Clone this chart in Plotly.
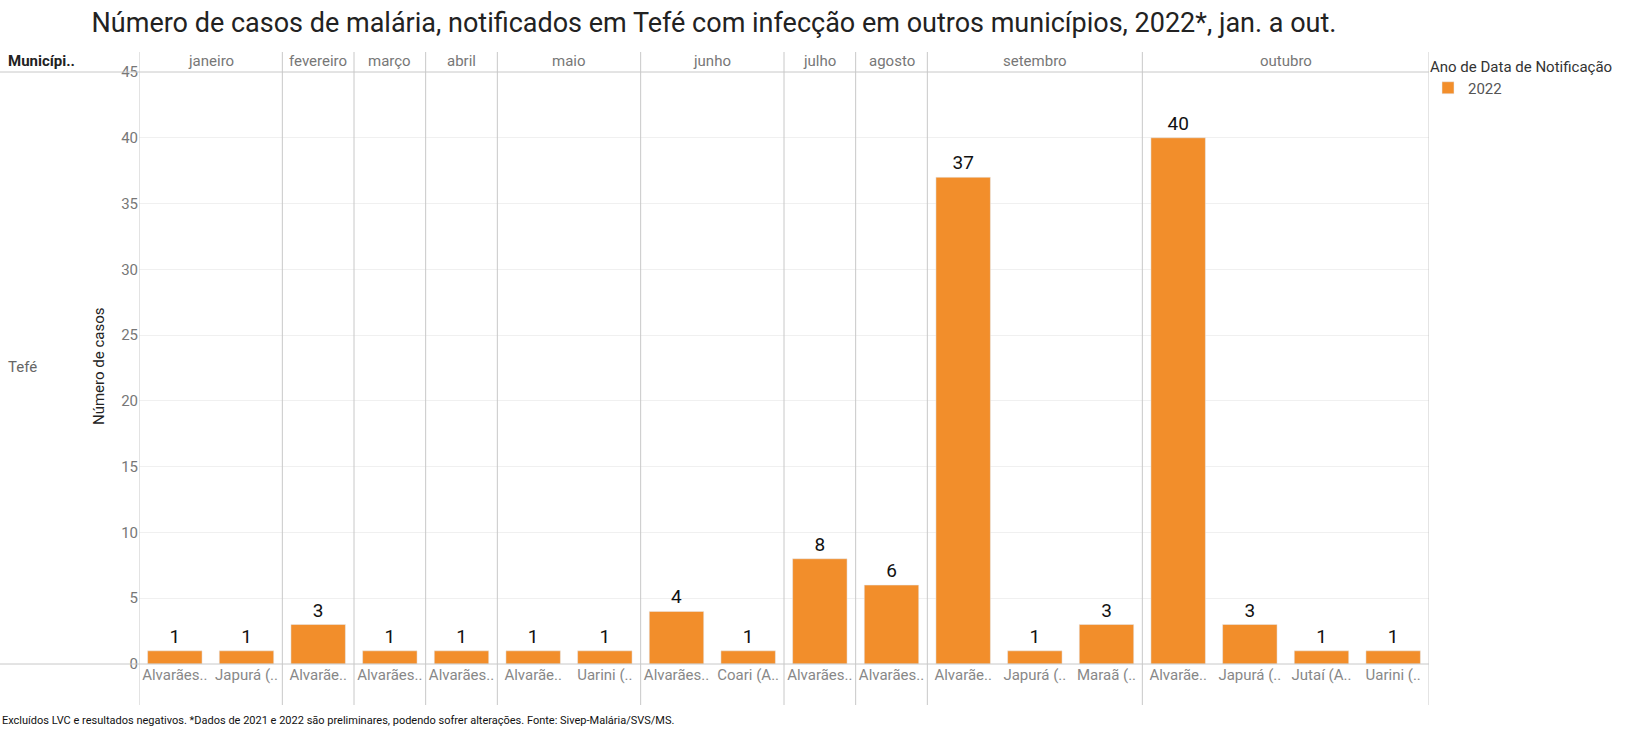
import plotly.graph_objects as go

months = ["janeiro", "fevereiro", "março", "abril", "maio", "junho",
          "julho", "agosto", "setembro", "outubro"]
bar_month = ["janeiro", "janeiro", "fevereiro", "março", "abril", "maio", "maio",
             "junho", "junho", "julho", "agosto", "setembro", "setembro", "setembro",
             "outubro", "outubro", "outubro", "outubro"]
bar_labels = ["Alvarães..", "Japurá (..", "Alvarãe..", "Alvarães..", "Alvarães..",
              "Alvarãe..", "Uarini (..", "Alvarães..", "Coari (A..", "Alvarães..",
              "Alvarães..", "Alvarãe..", "Japurá (..", "Maraã (..", "Alvarãe..",
              "Japurá (..", "Jutaí (A..", "Uarini (.."]
cases = [1, 1, 3, 1, 1, 1, 1, 4, 1, 8, 6, 37, 1, 3, 40, 3, 1, 1]

FONT = "Roboto, Arial, sans-serif"
ORANGE = "#F28E2B"
LINE = "#c8c8c8"

W, H = 1638, 730
L, R, T, B = 139, 1429, 72, 664
pw, ph = R - L, B - T

def px_x(p):
    return (p - L) / pw

def px_y(p):
    return (B - p) / ph

xs = list(range(len(cases)))

fig = go.Figure()
fig.add_trace(go.Bar(
    x=xs, y=cases, name="2022", marker_color=ORANGE, width=0.76,
    text=[str(v) for v in cases], textposition="outside",
    textfont=dict(size=19, color="#111", family=FONT), cliponaxis=False,
))

shapes = []
annotations = []
bounds = [-0.5]
for m in months:
    idx = [i for i, bm in enumerate(bar_month) if bm == m]
    lo, hi = idx[0] - 0.5, idx[-1] + 0.5
    bounds.append(hi)
    annotations.append(dict(x=(lo + hi) / 2, xref="x", y=px_y(61), yref="paper",
                            text=m, showarrow=False, xanchor="center", yanchor="middle",
                            font=dict(size=15, color="#777", family=FONT)))
for b in bounds:
    shapes.append(dict(type="line", xref="x", yref="paper", x0=b, x1=b,
                       y0=px_y(705), y1=px_y(52), line=dict(color=LINE, width=1)))
for yy in (T, B):
    shapes.append(dict(type="line", xref="paper", yref="paper", x0=px_x(0), x1=1,
                       y0=px_y(yy), y1=px_y(yy), line=dict(color=LINE, width=1)))

annotations += [
    dict(x=px_x(6), y=px_y(61), xref="paper", yref="paper", text="<b>Municípi..</b>",
         showarrow=False, xanchor="left", yanchor="middle",
         font=dict(size=15, color="#222", family=FONT)),
    dict(x=px_x(6), y=px_y(367), xref="paper", yref="paper", text="Tefé",
         showarrow=False, xanchor="left", yanchor="middle",
         font=dict(size=15, color="#666", family=FONT)),
    dict(x=px_x(99), y=px_y(367), xref="paper", yref="paper", text="Número de casos",
         showarrow=False, xanchor="center", yanchor="middle", textangle=-90,
         font=dict(size=15, color="#222", family=FONT)),
    dict(x=px_x(0), y=px_y(720), xref="paper", yref="paper",
         text="Excluídos LVC e resultados negativos. *Dados de 2021 e 2022 são preliminares, podendo sofrer alterações. Fonte: Sivep-Malária/SVS/MS.",
         showarrow=False, xanchor="left", yanchor="middle",
         font=dict(size=11, color="#111", family=FONT)),
]

fig.update_layout(
    width=W, height=H,
    margin=dict(l=L, r=W - R, t=T, b=H - B),
    paper_bgcolor="white", plot_bgcolor="white",
    title=dict(text="Número de casos de malária, notificados em Tefé com infecção em outros municípios, 2022*, jan. a out.",
               x=714 / W, xref="container", xanchor="center", y=1 - 23 / H, yanchor="middle",
               font=dict(size=27, color="#222", family=FONT)),
    font=dict(family=FONT),
    showlegend=True,
    legend=dict(title=dict(text="Ano de Data de Notificação", font=dict(size=15, color="#333", family=FONT)),
                x=px_x(1428), y=px_y(52), xanchor="left", yanchor="top",
                font=dict(size=15, color="#555", family=FONT), itemwidth=30,
                bgcolor="rgba(0,0,0,0)"),
    shapes=shapes, annotations=annotations, bargap=0.24,
)
fig.update_xaxes(range=[-0.5, len(cases) - 0.5], tickvals=xs, ticktext=bar_labels,
                 tickfont=dict(size=15, color="#888", family=FONT), showgrid=False,
                 showline=False, zeroline=False, ticks="", tickangle=0)
fig.update_yaxes(range=[0, 45], dtick=5, tickfont=dict(size=15, color="#777", family=FONT),
                 gridcolor="#f0f0f0", showline=False, zeroline=False, ticks="")

fig.write_html("out.html", config={"displayModeBar": False},
               post_script="document.body.style.margin='0';document.body.style.overflow='hidden';")
